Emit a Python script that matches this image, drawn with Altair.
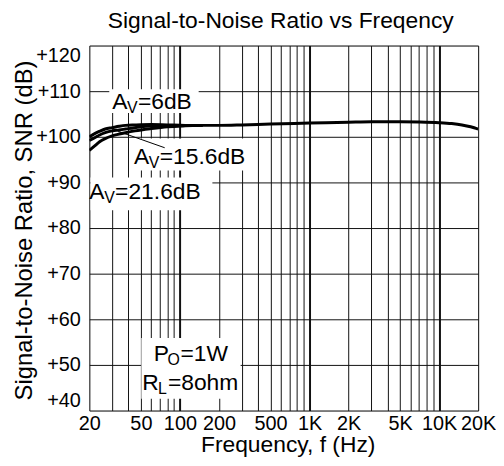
import altair as alt
import pandas as pd

FONT = "Liberation Sans"

# ---- curves (frequency in Hz, SNR in dB) ----
freq_6db = [20, 22, 24, 26.5, 30, 34, 38, 45, 60, 80, 110, 150, 200, 300, 500, 1000,
            2000, 3000, 5000, 7000, 10000, 12500, 15000, 17500, 19000, 20000]
snr_6db = [100.0, 100.7, 101.2, 101.7, 102.0, 102.3, 102.5, 102.6, 102.7, 102.6, 102.5,
           102.5, 102.5, 102.6, 102.8, 103.0, 103.2, 103.3, 103.3, 103.25, 103.1, 102.9,
           102.6, 102.2, 101.9, 101.7]
freq_15db = [20, 22, 24, 26.5, 30, 34, 38, 45, 60, 80, 110, 150]
snr_15db = [99.2, 99.8, 100.4, 100.9, 101.3, 101.5, 101.7, 102.0, 102.4, 102.5, 102.5, 102.5]
freq_21db = [20, 22, 24, 26.5, 30, 34, 38, 45, 60, 80, 110, 150]
snr_21db = [97.0, 98.0, 98.9, 99.6, 100.2, 100.6, 100.9, 101.3, 101.8, 102.2, 102.4, 102.5]

# ---- axes ----
grid_freqs = [20, 30, 40, 50, 60, 70, 80, 90, 100, 200, 300, 400, 500, 600, 700, 800, 900,
              1000, 2000, 3000, 4000, 5000, 6000, 7000, 8000, 9000, 10000, 20000]
label_freqs = [20, 50, 100, 200, 500, 1000, 2000, 5000, 10000, 20000]
label_texts = ["20", "50", "100", "200", "500", "1K", "2K", "5K", "10K", "20K"]
decade_freqs = [100, 1000, 10000]
snr_ticks = [40, 50, 60, 70, 80, 90, 100, 110, 120]
snr_texts = ["+40", "+50", "+60", "+70", "+80", "+90", "+100", "+110", "+120"]

# ---- annotations (anchor frequency, anchor SNR, main, subscript, rest) ----
ann_f = [30, 44.2, 20, 62.8, 51.1]
ann_v = [106.15, 94.07, 86.3, 50.93, 44.41]
ann_main = ["A", "A", "A", "P", "R"]
ann_sub = ["V", "V", "V", "O", "L"]
ann_rest = ["=6dB", "=15.6dB", "=21.6dB", "=1W", "=8ohm"]

# white label boxes
box_f1 = [28.5, 42.7, 20.4, 50.4]
box_f2 = [139.5, 346, 178, 294]
box_v1 = [110.4, 99.6, 91.1, 55.9]
box_v2 = [105.2, 92.6, 83.9, 42.6]

# leader line for the 15.6dB label
lead_f = [33.4]
lead_f2 = [76.3]
lead_v = [101.2]
lead_v2 = [97.6]


def arr_expr(vals, quote=False):
    if quote:
        return "[" + ",".join("'" + str(v) + "'" for v in vals) + "]"
    return "[" + ",".join(str(v) for v in vals) + "]"


x_label_expr = (
    f"indexof({arr_expr(label_freqs)}, datum.value) >= 0 ? "
    f"{arr_expr(label_texts, True)}[indexof({arr_expr(label_freqs)}, datum.value)] : ''"
)
y_label_expr = (
    f"indexof({arr_expr(snr_ticks)}, datum.value) >= 0 ? "
    f"{arr_expr(snr_texts, True)}[indexof({arr_expr(snr_ticks)}, datum.value)] : ''"
)

xscale = alt.Scale(type="log", domain=[20, 20000], nice=False)
yscale = alt.Scale(domain=[40, 120], nice=False, zero=False)

xaxis = alt.Axis(
    values=grid_freqs, labelExpr=x_label_expr, title="Frequency, f (Hz)",
    grid=True, gridColor="#111111", gridOpacity=1,
    gridWidth={"condition": {"test": f"indexof({arr_expr(decade_freqs)}, datum.value) >= 0",
                             "value": 2}, "value": 1},
    ticks=False, domain=False, labelFlush=False, labelOverlap=False,
    labelFont=FONT, labelFontSize=20, labelColor="black", labelPadding=3,
    labelBaseline="top",
    titleFont=FONT, titleFontSize=23, titleFontWeight="normal", titleColor="black",
    titleX=200, titleY=41, titleBaseline="alphabetic", titleAlign="center",
)
yaxis = alt.Axis(
    values=snr_ticks, labelExpr=y_label_expr, title="Signal-to-Noise Ratio, SNR (dB)",
    grid=True, gridColor="#111111", gridOpacity=1, gridWidth=1,
    ticks=False, domain=False, labelFlush=True, labelOverlap=False,
    labelFont=FONT, labelFontSize=20, labelColor="black", labelPadding=9,
    titleFont=FONT, titleFontSize=24, titleFontWeight="normal", titleColor="black",
    titleX=-58, titleY=186, titleBaseline="alphabetic", titleAlign="center", titleAngle=-90,
)


def X(field):
    return alt.X(field, type="quantitative", scale=xscale, axis=xaxis)


def Y(field):
    return alt.Y(field, type="quantitative", scale=yscale, axis=yaxis)


curves = pd.concat([
    pd.DataFrame({"f": freq_6db, "v": snr_6db, "c": "6dB"}),
    pd.DataFrame({"f": freq_15db, "v": snr_15db, "c": "15.6dB"}),
    pd.DataFrame({"f": freq_21db, "v": snr_21db, "c": "21.6dB"}),
])
boxes = pd.DataFrame({"f": box_f1, "f2": box_f2, "v": box_v1, "v2": box_v2})
lead = pd.DataFrame({"f": lead_f, "f2": lead_f2, "v": lead_v, "v2": lead_v2})

box_layer = alt.Chart(boxes).mark_rect(color="white").encode(
    x=X("f"), x2="f2", y=Y("v"), y2="v2")

curve_layer = alt.Chart(curves).mark_line(
    color="black", strokeWidth=3, interpolate="monotone", clip=True
).encode(x=X("f"), y=Y("v"), detail="c:N")

lead_layer = alt.Chart(lead).mark_rule(color="black", strokeWidth=1).encode(
    x=X("f"), x2="f2", y=Y("v"), y2="v2")

# subscript offsets per label (pixels, from glyph widths)
sub_dx = [15, 15, 15, 14, 16]
rest_dx = [26, 26, 26, 27, 26]

ann = pd.DataFrame({"f": ann_f, "v": ann_v, "main": ann_main, "sub": ann_sub,
                    "rest": ann_rest})

text_layers = []
for i in range(len(ann)):
    row = ann.iloc[[i]]
    base = alt.Chart(row)
    text_layers.append(base.mark_text(align="left", baseline="alphabetic", font=FONT,
                                      fontSize=23, color="black").encode(
        x=X("f"), y=Y("v"), text="main:N"))
    text_layers.append(base.mark_text(align="left", baseline="alphabetic", font=FONT,
                                      fontSize=16, color="black",
                                      dx=float(sub_dx[i]), dy=4).encode(
        x=X("f"), y=Y("v"), text="sub:N"))
    text_layers.append(base.mark_text(align="left", baseline="alphabetic", font=FONT,
                                      fontSize=23, color="black",
                                      dx=float(rest_dx[i])).encode(
        x=X("f"), y=Y("v"), text="rest:N"))

chart = alt.layer(box_layer, curve_layer, lead_layer, *text_layers).properties(
    width=392, height=368,
    autosize=alt.AutoSizeParams(type="none"),
    padding={"left": 82, "top": 36, "right": 18, "bottom": 46},
    title=alt.TitleParams("Signal-to-Noise Ratio vs Freqency", font=FONT, fontSize=23,
                          fontWeight="normal", color="black", anchor="middle",
                          offset=13, dx=-3),
).configure_view(stroke="black", strokeWidth=2).configure(background="white")

chart.save("out.html", embed_options={"renderer": "svg", "actions": False})
